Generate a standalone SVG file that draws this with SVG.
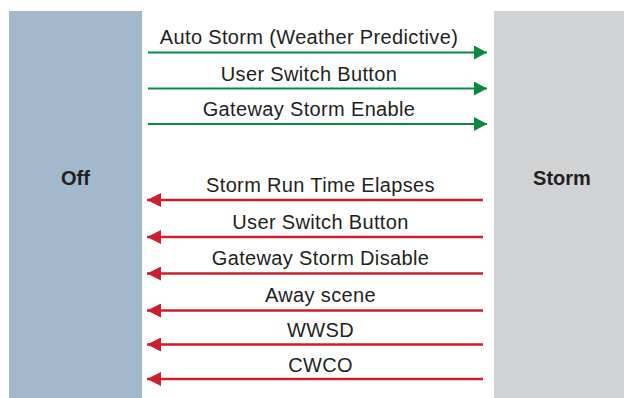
<svg xmlns="http://www.w3.org/2000/svg" width="624" height="398" viewBox="0 0 624 398">
  <defs>
    <marker id="ag" viewBox="0 0 13 14" refX="13" refY="7" markerWidth="13" markerHeight="14" markerUnits="userSpaceOnUse" orient="auto">
      <path d="M0,0 L13,7 L0,14 Z" fill="#0b8a3e"/>
    </marker>
    <marker id="ar" viewBox="0 0 14 14" refX="14" refY="7" markerWidth="14" markerHeight="14" markerUnits="userSpaceOnUse" orient="auto">
      <path d="M0,0 L14,7 L0,14 Z" fill="#cc1f2d"/>
    </marker>
  </defs>
  <style>
    .lbl { font-family: "Liberation Sans", Arial, sans-serif; font-size: 20px; letter-spacing: 0.35px; fill: #231f20; text-anchor: middle; }
    .node { font-family: "Liberation Sans", Arial, sans-serif; font-size: 20px; font-weight: bold; fill: #231f20; text-anchor: middle; }
    .g { stroke: #0b8a3e; stroke-width: 2.2; fill: none; marker-end: url(#ag); }
    .r { stroke: #cc1f2d; stroke-width: 2.4; fill: none; marker-end: url(#ar); }
  </style>
  <rect x="0" y="0" width="624" height="398" fill="#ffffff"/>
  <g id="off">
    <rect x="9" y="11" width="133" height="387" fill="#a3b8cb"/>
    <text class="node" x="75.5" y="185">Off</text>
  </g>
  <g id="storm">
    <rect x="494" y="11" width="136" height="387" fill="#d1d2d4"/>
    <text class="node" x="562" y="185">Storm</text>
  </g>
  <g id="connectors">
    <line class="g" x1="148" y1="52.5" x2="487" y2="52.5"/>
    <line class="g" x1="148" y1="88.5" x2="487" y2="88.5"/>
    <line class="g" x1="148" y1="124" x2="487" y2="124"/>
    <line class="r" x1="483" y1="200" x2="147" y2="200"/>
    <line class="r" x1="483" y1="237" x2="147" y2="237"/>
    <line class="r" x1="483" y1="273.5" x2="147" y2="273.5"/>
    <line class="r" x1="483" y1="310.5" x2="147" y2="310.5"/>
    <line class="r" x1="483" y1="344.5" x2="147" y2="344.5"/>
    <line class="r" x1="483" y1="379" x2="147" y2="379"/>
    <text class="lbl" x="309" y="44">Auto Storm (Weather Predictive)</text>
    <text class="lbl" x="309" y="81">User Switch Button</text>
    <text class="lbl" x="309" y="116">Gateway Storm Enable</text>
    <text class="lbl" x="320.5" y="192">Storm Run Time Elapses</text>
    <text class="lbl" x="320.5" y="229">User Switch Button</text>
    <text class="lbl" x="320.5" y="265">Gateway Storm Disable</text>
    <text class="lbl" x="320.5" y="302">Away scene</text>
    <text class="lbl" x="320.5" y="337">WWSD</text>
    <text class="lbl" x="320.5" y="372">CWCO</text>
  </g>
</svg>
